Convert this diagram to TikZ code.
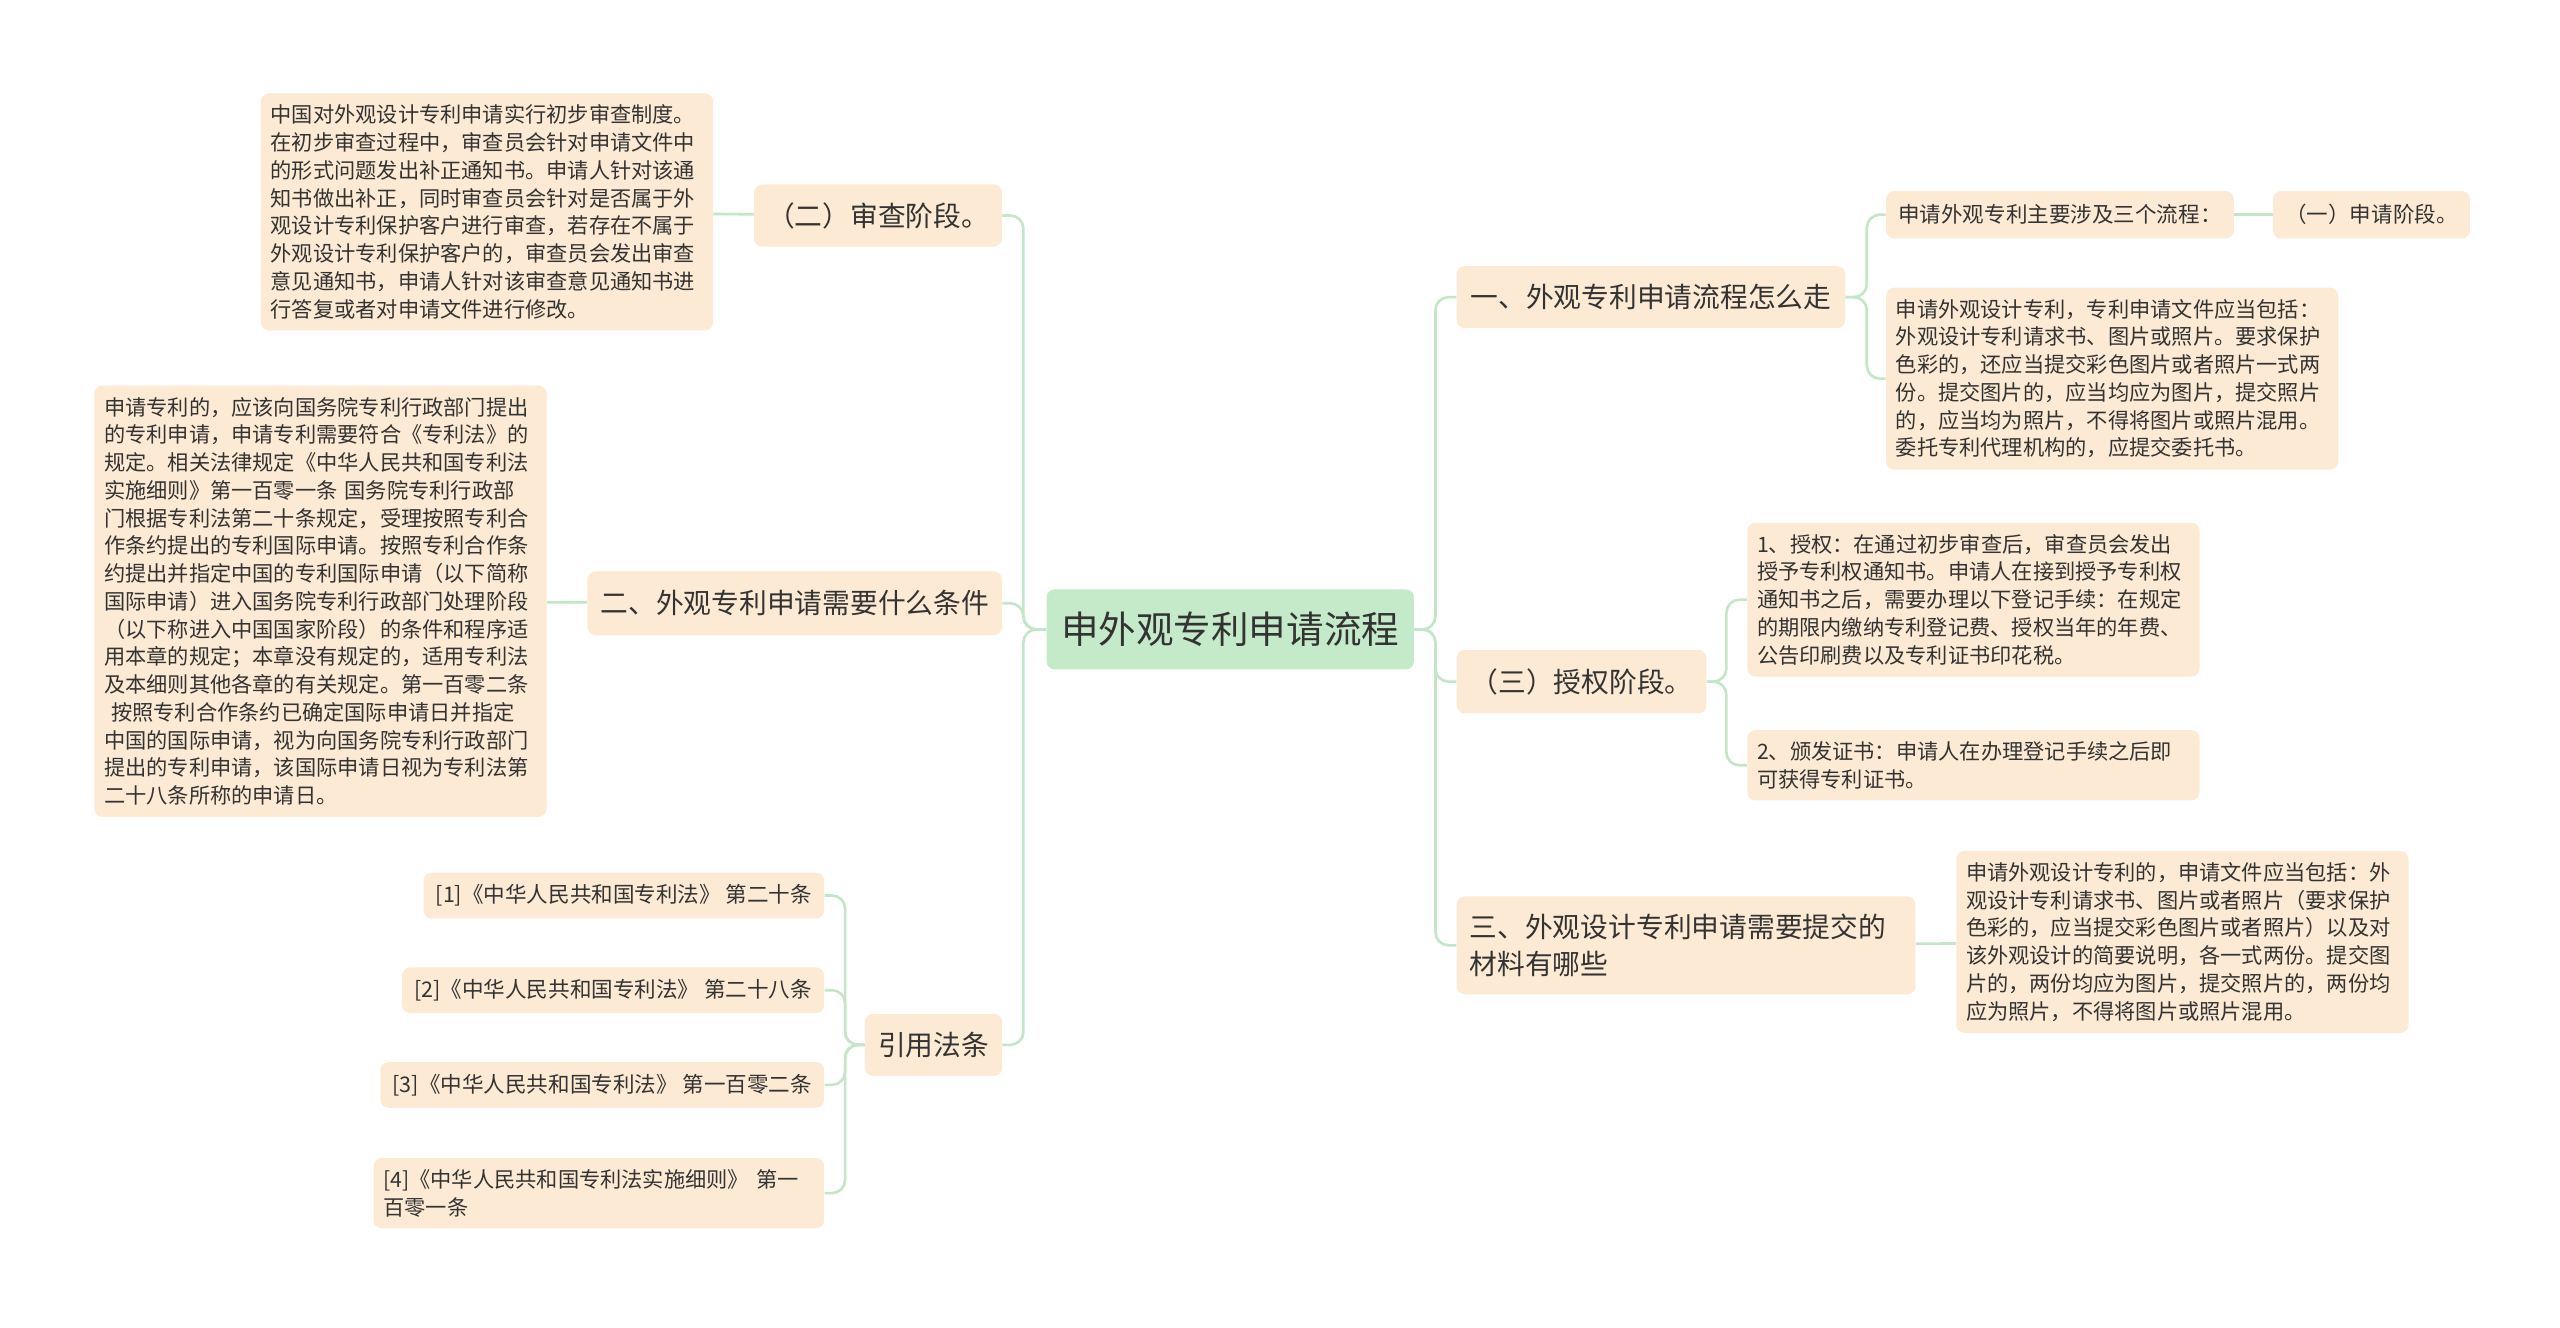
\documentclass[tikz,border=0pt]{standalone}
\usepackage{fontspec}
\setmainfont{Noto Sans CJK SC}
\usetikzlibrary{positioning}
\definecolor{peach}{RGB}{252,234,212}
\definecolor{rootgreen}{RGB}{197,234,202}
\definecolor{linkgreen}{RGB}{196,230,200}
\definecolor{textgray}{RGB}{51,51,51}
\tikzset{
  box/.style={rounded corners=5pt, text=textgray, inner ysep=0pt},
  root/.style={box, fill=rootgreen, font=\fontsize{23}{30}\selectfont, minimum width=225pt, minimum height=49pt, inner xsep=4pt},
  topic/.style={box, fill=peach, font=\fontsize{17}{23}\selectfont, minimum height=38pt, inner xsep=8pt},
  leaf/.style={box, fill=peach, font=\fontsize{13.2}{17}\selectfont, minimum height=28pt, inner xsep=7.5pt},
  note/.style={box, fill=peach, font=\fontsize{13}{17}\selectfont, align=left, text width=265pt, inner xsep=6pt, inner ysep=7pt},
  link/.style={draw=linkgreen, line width=1.6pt, rounded corners=8pt}
}
\begin{document}
\begin{tikzpicture}[x=1pt,y=-1pt]
\useasboundingbox (0,0) rectangle (1568,812.8);
\node[root] (R_0) at (753.5,385.5) {申外观专利申请流程};
% right side
\node[topic, anchor=west, minimum width=238pt] (R_1) at (892,182) {一、外观专利申请流程怎么走};
\node[leaf, anchor=west, minimum height=29pt] (R_11) at (1155,131.5) {申请外观专利主要涉及三个流程：};
\node[leaf, anchor=west, minimum height=29pt, minimum width=118pt] (R_111) at (1392,131.5) {（一）申请阶段。};
\node[note, anchor=north west] (R_12) at (1155,176) {申请外观设计专利，专利申请文件应当包括：\\外观设计专利请求书、图片或照片。要求保护\\色彩的，还应当提交彩色图片或者照片一式两\\份。提交图片的，应当均应为图片，提交照片\\的，应当均为照片，不得将图片或照片混用。\\委托专利代理机构的，应提交委托书。};
\node[topic, anchor=west, minimum width=153pt, minimum height=39pt] (R_2) at (892,417.5) {（三）授权阶段。};
\node[note, anchor=north west] (R_21) at (1070,320) {1、授权：在通过初步审查后，审查员会发出\\授予专利权通知书。申请人在接到授予专利权\\通知书之后，需要办理以下登记手续：在规定\\的期限内缴纳专利登记费、授权当年的年费、\\公告印刷费以及专利证书印花税。};
\node[note, anchor=north west] (R_22) at (1070,447) {2、颁发证书：申请人在办理登记手续之后即\\可获得专利证书。};
\node[topic, anchor=west, align=left, text width=265pt, minimum height=60pt] (R_3) at (892,579) {三、外观设计专利申请需要提交的\\材料有哪些};
\node[note, anchor=north west] (R_31) at (1198,521) {申请外观设计专利的，申请文件应当包括：外\\观设计专利请求书、图片或者照片（要求保护\\色彩的，应当提交彩色图片或者照片）以及对\\该外观设计的简要说明，各一式两份。提交图\\片的，两份均应为图片，提交照片的，两份均\\应为照片，不得将图片或照片混用。};
% left side
\node[topic, anchor=east, minimum width=151pt] (L_1) at (614,132) {（二）审查阶段。};
\node[note, anchor=north east] (L_11) at (437,57) {中国对外观设计专利申请实行初步审查制度。\\在初步审查过程中，审查员会针对申请文件中\\的形式问题发出补正通知书。申请人针对该通\\知书做出补正，同时审查员会针对是否属于外\\观设计专利保护客户进行审查，若存在不属于\\外观设计专利保护客户的，审查员会发出审查\\意见通知书，申请人针对该审查意见通知书进\\行答复或者对申请文件进行修改。};
\node[topic, anchor=east, minimum width=254pt, minimum height=39pt] (L_2) at (614,369.5) {二、外观专利申请需要什么条件};
\node[note, anchor=north east] (L_21) at (335,236) {申请专利的，应该向国务院专利行政部门提出\\的专利申请，申请专利需要符合《专利法》的\\规定。相关法律规定《中华人民共和国专利法\\实施细则》第一百零一条 国务院专利行政部\\门根据专利法第二十条规定，受理按照专利合\\作条约提出的专利国际申请。按照专利合作条\\约提出并指定中国的专利国际申请（以下简称\\国际申请）进入国务院专利行政部门处理阶段\\（以下称进入中国国家阶段）的条件和程序适\\用本章的规定；本章没有规定的，适用专利法\\及本细则其他各章的有关规定。第一百零二条\\\ 按照专利合作条约已确定国际申请日并指定\\中国的国际申请，视为向国务院专利行政部门\\提出的专利申请，该国际申请日视为专利法第\\二十八条所称的申请日。};
\node[topic, anchor=east, minimum width=84pt] (L_3) at (614,640) {引用法条};
\node[leaf, anchor=east] (L_31) at (505,548.5) {[1]《中华人民共和国专利法》 第二十条};
\node[leaf, anchor=east] (L_32) at (505,606.5) {[2]《中华人民共和国专利法》 第二十八条};
\node[leaf, anchor=east] (L_33) at (505,664.5) {[3]《中华人民共和国专利法》 第一百零二条};
\node[note, anchor=north east, text width=264pt] (L_34) at (505,709) {[4]《中华人民共和国专利法实施细则》 第一\\百零一条};
% connectors
\foreach \child in {R_1,R_2,R_3}
  \draw[link] (R_0.east) -- ++(13,0) |- (\child.west);
\foreach \child in {L_1,L_2,L_3}
  \draw[link] (R_0.west) -- ++(-14,0) |- (\child.east);
\foreach \child in {R_11,R_12}
  \draw[link] (R_1.east) -- ++(13,0) |- (\child.west);
\foreach \child in {R_21,R_22}
  \draw[link] (R_2.east) -- ++(12,0) |- (\child.west);
\foreach \child in {L_31,L_32,L_33,L_34}
  \draw[link] (L_3.west) -- ++(-12,0) |- (\child.east);
\draw[link] (R_11) -- (R_111);
\draw[link] (R_3) -- (R_31);
\draw[link] (L_1) -- (L_11);
\draw[link] (L_2) -- (L_21);
\end{tikzpicture}
\end{document}
